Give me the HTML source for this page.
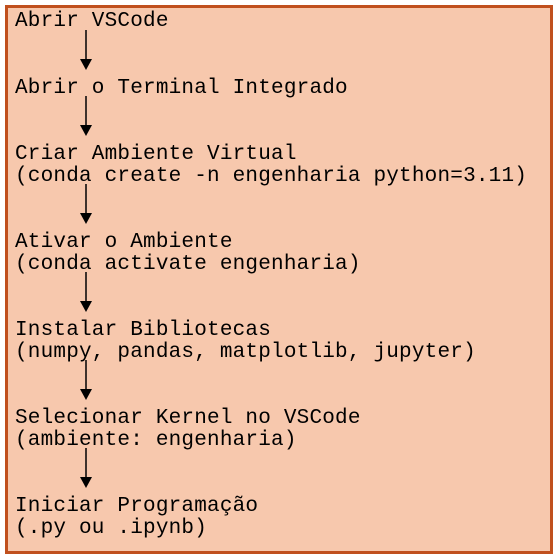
<!DOCTYPE html>
<html><head><style>
body{margin:0;width:557px;height:558px;background:#fff;position:relative;overflow:hidden}
#b{position:absolute;left:5px;top:5px;width:542px;height:543px;background:#f7c8ad;border:3px solid #c0501e}
.t{position:absolute;left:15px;font-family:"Liberation Mono",monospace;font-size:21px;letter-spacing:0.2px;line-height:22px;color:#000;white-space:pre}
svg{position:absolute;left:0;top:0}
</style></head><body>
<div id="b"></div>
<div class="t" style="top:11px">Abrir VSCode</div>
<div class="t" style="top:78px">Abrir o Terminal Integrado</div>
<div class="t" style="top:144px">Criar Ambiente Virtual
(conda create -n engenharia python=3.11)</div>
<div class="t" style="top:232px">Ativar o Ambiente
(conda activate engenharia)</div>
<div class="t" style="top:320px">Instalar Bibliotecas
(numpy, pandas, matplotlib, jupyter)</div>
<div class="t" style="top:408px">Selecionar Kernel no VSCode
(ambiente: engenharia)</div>
<div class="t" style="top:496px">Iniciar Programação
(.py ou .ipynb)</div>
<svg width="557" height="558">
<g stroke="#000" stroke-width="1.5">
<line x1="86" y1="30" x2="86" y2="60"/>
<line x1="86" y1="96" x2="86" y2="126"/>
<line x1="86" y1="184" x2="86" y2="214"/>
<line x1="86" y1="272" x2="86" y2="302"/>
<line x1="86" y1="360" x2="86" y2="390"/>
<line x1="86" y1="448" x2="86" y2="478"/>
</g>
<g fill="#000">
<polygon points="80,59 92,59 86,70"/>
<polygon points="80,125 92,125 86,136"/>
<polygon points="80,213 92,213 86,224"/>
<polygon points="80,301 92,301 86,312"/>
<polygon points="80,389 92,389 86,400"/>
<polygon points="80,477 92,477 86,488"/>
</g>
</svg>
</body></html>
